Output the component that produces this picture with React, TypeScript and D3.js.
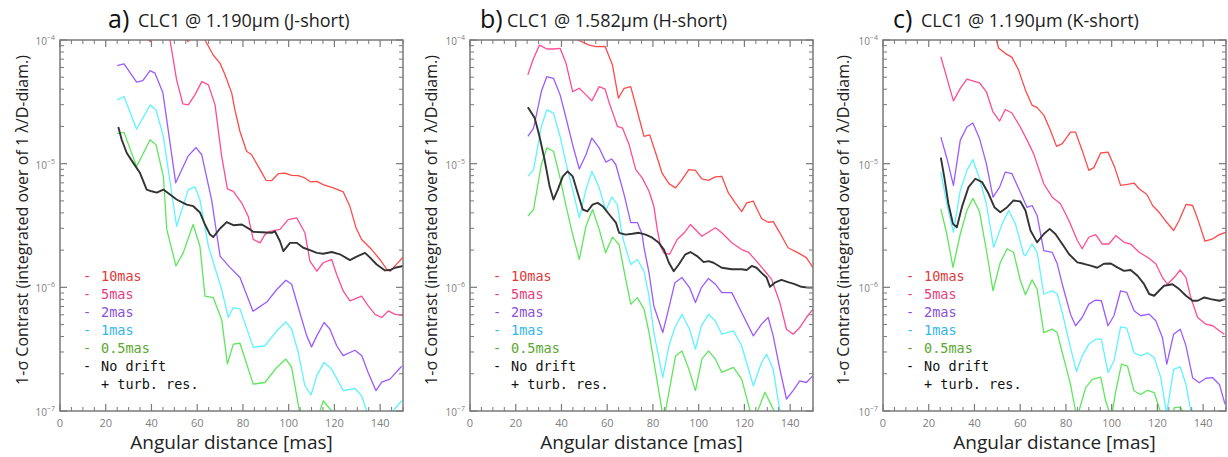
import React from "react";
import * as d3 from "d3";

type P = [number, number];

// ---------- labels ----------
const panelLetters = ["a)", "b)", "c)"];
const panelTitles = ["CLC1 @ 1.190µm (J-short)", "CLC1 @ 1.582µm (H-short)", "CLC1 @ 1.190µm (K-short)"];
const seriesNames = ["10mas", "5mas", "2mas", "1mas", "0.5mas", "No drift"];
const legendExtra = "+ turb. res.";
const xTicks = [0, 20, 40, 60, 80, 100, 120, 140];
const yDecades = [-4, -5, -6, -7];
const yLabel = "1-σ Contrast (integrated over of 1 λ/D-diam.)";
const xLabel = "Angular distance [mas]";

// ---------- panel a (J-short) ----------
const a10: P[] = [[25,1.6e-4],[33,1.3e-4],[39.4,0.97e-4],[45,1.3e-4],[50,1.4e-4],[56,0.97e-4],[60,1.2e-4],[63.4,1e-4],[67,7.56e-5],[70,6.48e-5],[72.2,5.22e-5],[75.1,3.72e-5],[76.5,2.72e-5],[78.7,1.82e-5],[81.6,1.26e-5],[83.8,1.18e-5],[87.5,8.95e-6],[90.1,7.34e-6],[92.6,7.3e-6],[95.5,8.3e-6],[98.4,8.4e-6],[101.3,8.05e-6],[104.2,8.0e-6],[107.1,7.67e-6],[109.6,7.12e-6],[112.3,7.2e-6],[115.1,6.77e-6],[119.5,6.37e-6],[123.9,5.91e-6],[126.8,4.5e-6],[129.4,3.05e-6],[131.9,2.44e-6],[136.3,2.02e-6],[139.9,1.68e-6],[142.9,1.4e-6],[144.3,1.35e-6],[146.5,1.49e-6],[150,1.75e-6]];
const a5: P[] = [[25,3e-4],[35,2.5e-4],[42,1.8e-4],[48.1,1e-4],[51,4.76e-5],[53.7,3.05e-5],[56.1,2.99e-5],[59,3.6e-5],[62,4.61e-5],[64.9,4.34e-5],[67.8,2.99e-5],[70.7,1.15e-5],[73.2,6.25e-6],[75.8,5.98e-6],[79.5,4.8e-6],[82.3,3.76e-6],[84.5,2.44e-6],[87.5,2.29e-6],[89.6,2.67e-6],[91.8,2.84e-6],[96.2,2.94e-6],[99.8,3.53e-6],[103.5,3.65e-6],[107.1,2.76e-6],[109.3,1.63e-6],[112.3,1.35e-6],[115.1,1.58e-6],[118.8,1.68e-6],[121,1.27e-6],[123.9,9.3e-7],[126.8,7.76e-7],[131.9,8.5e-7],[134.8,7.07e-7],[137.8,6.05e-7],[140.7,5.7e-7],[143.6,6.45e-7],[146.5,6.05e-7],[150,5.94e-7]];
const a2: P[] = [[25,6.2e-5],[28,6.4e-5],[33.5,4.56e-5],[36.2,4.7e-5],[39.4,5.65e-5],[41.5,5.4e-5],[45,3.74e-5],[50.6,7.0e-6],[56,1.15e-5],[59.5,1.35e-5],[62,1.18e-5],[66.3,5.1e-6],[70,1.79e-6],[74.3,1.45e-6],[78.7,1.2e-6],[84.4,6.4e-7],[90.4,7.6e-7],[94.8,9.6e-7],[98.8,1.14e-6],[101.3,1.06e-6],[104,7.1e-7],[107.9,4.05e-7],[110,3.3e-7],[112.3,4.05e-7],[115.5,5.2e-7],[118,4.6e-7],[121,3.37e-7],[123.8,2.8e-7],[129,3.1e-7],[132,2.8e-7],[134.7,2.06e-7],[138.2,1.46e-7],[140.7,1.71e-7],[144.3,1.81e-7],[149.4,2.3e-7]];
const a1: P[] = [[25,3.28e-5],[28,3.49e-5],[33.5,1.9e-5],[39.4,2.99e-5],[42,2.72e-5],[45.2,1.66e-5],[51,3.12e-6],[56.1,6.17e-6],[59,6.5e-6],[61.2,5.1e-6],[64.9,2.15e-6],[70.7,9.6e-7],[73.6,5.7e-7],[75.8,6.86e-7],[78.7,6.7e-7],[84.5,3.27e-7],[89.6,3.37e-7],[94.8,4.45e-7],[98.8,5.25e-7],[101.3,4.58e-7],[104.2,2.97e-7],[107.1,1.6e-7],[109.8,1.35e-7],[112.3,1.93e-7],[115.5,2.47e-7],[118.8,2.18e-7],[123.9,1.46e-7],[129,1.52e-7],[131.9,1.33e-7],[134.1,1.0e-7],[136,8e-8],[140,7e-8],[143,8e-8],[145.6,1e-7],[149.4,1.21e-7]];
const a05: P[] = [[25,1.75e-5],[28,1.79e-5],[33.5,9.5e-6],[39.4,1.56e-5],[42,1.42e-5],[45.2,7.9e-6],[46.7,2.94e-6],[50.7,1.49e-6],[53.9,1.9e-6],[58.2,3.22e-6],[61.2,2.15e-6],[63.4,8.5e-7],[67,8.26e-7],[70.7,5.5e-7],[73.2,2.4e-7],[75.8,3.47e-7],[78.7,3.53e-7],[84.5,1.65e-7],[89.6,1.7e-7],[94.8,2.25e-7],[98.8,2.63e-7],[101.3,2.25e-7],[104.7,1e-7],[108,6e-8],[112,8e-8],[115.1,1.21e-7],[118.8,1e-7],[122,6e-8],[130,5e-8],[140,5e-8],[150,5e-8]];
const a0: P[] = [[25.5,1.98e-5],[27,1.56e-5],[29.2,1.22e-5],[32.1,1.01e-5],[35,8.4e-6],[37.9,6.17e-6],[40.1,5.98e-6],[42.3,5.84e-6],[45.2,6.17e-6],[48.1,5.62e-6],[51,5.13e-6],[55.4,4.67e-6],[58.3,4.53e-6],[61.2,4.03e-6],[63.4,3.22e-6],[65.6,2.67e-6],[67,2.55e-6],[70,2.99e-6],[72.9,3.37e-6],[75.8,3.18e-6],[79.5,3.22e-6],[83.1,2.94e-6],[84.5,2.81e-6],[88.2,2.79e-6],[92.6,2.76e-6],[94,2.84e-6],[96.2,2.36e-6],[97.7,1.96e-6],[100.6,2.29e-6],[103.5,2.29e-6],[106.4,2.09e-6],[109.3,2.0e-6],[112.3,1.9e-6],[115.1,1.87e-6],[118.8,1.93e-6],[122.4,1.85e-6],[126.8,1.66e-6],[129.7,1.77e-6],[133.4,1.9e-6],[135.6,1.74e-6],[138.5,1.53e-6],[142.1,1.37e-6],[144.3,1.38e-6],[146.5,1.44e-6],[150,1.49e-6]];

// ---------- panel b (H-short) ----------
const b10: P[] = [[25,3e-4],[40,2e-4],[47.1,1e-4],[52.2,9.1e-5],[55.1,8.83e-5],[59.1,8.87e-5],[62.3,6.28e-5],[64.9,3.39e-5],[67.4,4.07e-5],[70.3,4.2e-5],[73.2,2.64e-5],[76.1,1.66e-5],[78.6,1.71e-5],[81.2,1.22e-5],[84,8.4e-6],[87,6.9e-6],[89.9,6.37e-6],[92.7,7.43e-6],[95.7,8.95e-6],[98.6,8.83e-6],[101.4,7.53e-6],[104.3,7.33e-6],[107.3,7.81e-6],[110.1,7.9e-6],[113,5.8e-6],[116,4.82e-6],[118.8,4.1e-6],[121,4.82e-6],[123.9,4.97e-6],[127.5,3.6e-6],[130.4,3.36e-6],[132.6,3.4e-6],[135.5,2.76e-6],[139.1,2.09e-6],[143.5,1.9e-6],[147.1,1.74e-6],[150,1.44e-6]];
const b5: P[] = [[25.3,5.22e-5],[27.5,6.9e-5],[30.4,9.1e-5],[33.6,8.46e-5],[36.5,8.46e-5],[39.4,8.57e-5],[42,6.48e-5],[44.9,3.83e-5],[47.8,4.07e-5],[50.7,3.6e-5],[53.3,3.23e-5],[56.5,4.2e-5],[59.1,4.0e-5],[60.9,3.09e-5],[63,2.4e-5],[64.5,2.0e-5],[66.7,1.94e-5],[69.6,1.42e-5],[72.5,8.95e-6],[75.3,7.67e-6],[78.3,5.98e-6],[80.4,4.53e-6],[81.9,2.94e-6],[83.3,2.15e-6],[84.8,1.9e-6],[87.3,1.85e-6],[90.6,2.44e-6],[93.9,2.79e-6],[96.4,3.22e-6],[101.4,2.59e-6],[107.3,3.03e-6],[110.1,2.76e-6],[114.5,2.29e-6],[118.8,2.02e-6],[121.7,1.93e-6],[125.3,1.63e-6],[129,1.35e-6],[131.9,1.16e-6],[135.5,7.53e-7],[138.4,4.58e-7],[141.3,4.18e-7],[144.2,4.73e-7],[147.1,5.7e-7],[150,6.65e-7]];
const b2: P[] = [[25.3,1.66e-5],[27.8,1.94e-5],[31.2,3.83e-5],[33.6,5.06e-5],[36.5,4.9e-5],[39.4,3.6e-5],[42,2.34e-5],[44.9,1.42e-5],[47.8,9.06e-6],[50.7,1.18e-5],[53.3,1.61e-5],[56.5,1.34e-5],[59.4,1.03e-5],[62,1.09e-5],[63.8,9.8e-6],[67.4,5.62e-6],[70.3,3.34e-6],[73.2,3.34e-6],[75.3,2.67e-6],[76.1,2.09e-6],[78.3,1.31e-6],[80.4,7.07e-7],[84.3,4.31e-7],[87,6.86e-7],[89.6,1.09e-6],[92.7,1.2e-6],[96,9.95e-7],[98.6,7.53e-7],[101.2,9.95e-7],[104.3,1.18e-6],[107.3,1.06e-6],[110.1,9.06e-7],[114.5,9.06e-7],[118.8,6.25e-7],[123.9,4.05e-7],[127.5,5.04e-7],[130.4,5.7e-7],[132.6,4.05e-7],[135.5,2.18e-7],[138.4,1.25e-7],[141.3,1.46e-7],[144.2,1.75e-7],[147.1,1.7e-7],[150,1.93e-7]];
const b1: P[] = [[25.3,7.9e-6],[27.8,8.95e-6],[31.2,2.0e-5],[33.6,2.72e-5],[36.5,2.56e-5],[39.4,1.66e-5],[42,1.01e-5],[44.9,6.17e-6],[47.8,3.65e-6],[50.7,6.17e-6],[53.3,8.67e-6],[56.5,6.4e-6],[59.4,4.18e-6],[62,5.37e-6],[64.5,4.67e-6],[66.1,2.94e-6],[67.4,2.29e-6],[70.3,1.53e-6],[73.2,1.68e-6],[76.1,1.35e-6],[78.3,8.5e-7],[80.4,4.31e-7],[84.3,1.87e-7],[87,3.37e-7],[89.6,4.73e-7],[92.7,6.05e-7],[96,4.58e-7],[98.6,3.16e-7],[101.2,4.88e-7],[104.3,6.05e-7],[107.3,5.35e-7],[110.1,4.18e-7],[115.2,4.45e-7],[118.8,3.37e-7],[123.9,1.6e-7],[127.5,2.47e-7],[129.7,2.88e-7],[132.6,2.18e-7],[135.5,1e-7],[138,6e-8],[145,5e-8],[150,5e-8]];
const b05: P[] = [[25.3,3.76e-6],[27.8,4.26e-6],[31.2,9.8e-6],[33.6,1.34e-5],[36.5,1.26e-5],[39.4,7.67e-6],[42,4.53e-6],[44.9,2.67e-6],[47.8,1.68e-6],[50.7,3.12e-6],[53.6,4.26e-6],[56.5,2.94e-6],[59.3,1.9e-6],[62.3,2.55e-6],[65.2,2.22e-6],[67.4,1.35e-6],[70.3,7.3e-7],[73.2,8.26e-7],[76.1,6.65e-7],[78.3,4.31e-7],[81.2,2.05e-7],[84,1e-7],[84.8,8e-8],[85.5,1e-7],[89.9,2.79e-7],[92.7,3.06e-7],[95.7,2.18e-7],[98.6,1.46e-7],[101.4,2.63e-7],[104.3,3.06e-7],[107.3,2.63e-7],[110.1,2.05e-7],[115.2,2.25e-7],[118.8,1.81e-7],[122.5,1e-7],[124,7e-8],[125.8,1e-7],[129,1.42e-7],[131.9,1.1e-7],[133,1e-7],[136,5e-8],[150,4e-8]];
const b0: P[] = [[25.3,2.86e-5],[28.3,2.34e-5],[30.4,1.66e-5],[32.6,1.08e-5],[34.8,6.56e-6],[36.5,5.13e-6],[38.4,6.17e-6],[40.6,7.9e-6],[42.7,8.67e-6],[44.9,7.9e-6],[47.1,5.8e-6],[49.3,4.26e-6],[51.4,4.12e-6],[53.6,4.67e-6],[55.8,4.82e-6],[58,4.53e-6],[60.9,3.88e-6],[63.8,3.34e-6],[65.2,2.76e-6],[68.1,2.67e-6],[71,2.71e-6],[73.9,2.76e-6],[76.8,2.67e-6],[79.7,2.52e-6],[82.6,2.29e-6],[84.8,2.02e-6],[87,1.58e-6],[89.1,1.35e-6],[91.3,1.53e-6],[94.2,1.85e-6],[96.4,1.93e-6],[99.3,1.79e-6],[102.2,1.6e-6],[104.3,1.63e-6],[106.5,1.58e-6],[110.1,1.44e-6],[114.5,1.4e-6],[118.8,1.4e-6],[121,1.38e-6],[123.2,1.49e-6],[125.3,1.44e-6],[127.5,1.31e-6],[129.7,1.2e-6],[131.2,1.01e-6],[133.3,1.09e-6],[136.2,1.15e-6],[139.1,1.1e-6],[142,1.06e-6],[144.9,1.01e-6],[147.8,9.95e-7],[150,9.95e-7]];

// ---------- panel c (K-short) ----------
const c10: P[] = [[25,3e-4],[40,1.6e-4],[49.6,1e-4],[50.6,8.57e-5],[53.5,7.8e-5],[56.4,7.24e-5],[59.3,5.71e-5],[62.3,3.93e-5],[65.2,2.97e-5],[67.4,2.84e-5],[70.3,2.47e-5],[73.2,1.86e-5],[75.9,1.38e-5],[78.4,1.45e-5],[82,1.8e-5],[84.2,1.8e-5],[87.1,1.28e-5],[90,8.83e-6],[92.2,9.29e-6],[95.2,1.22e-5],[98.4,1.24e-5],[101.3,9.38e-6],[103.9,6.67e-6],[106.9,6.79e-6],[109.8,6.97e-6],[112,6.27e-6],[115.4,5.64e-6],[117.9,4.59e-6],[120.7,4.05e-6],[123.7,3.42e-6],[127.1,2.88e-6],[129.5,3.47e-6],[132.5,4.68e-6],[135.4,4.59e-6],[137.6,3.58e-6],[140.8,2.36e-6],[144.2,2.47e-6],[147.1,2.67e-6],[150,2.79e-6]];
const c5: P[] = [[25.3,7.32e-5],[28.2,4.74e-5],[30.8,3.22e-5],[33.8,4.06e-5],[36.7,4.83e-5],[39.3,4.68e-5],[42.2,4.51e-5],[45.2,3.81e-5],[48.1,2.62e-5],[51,2.21e-5],[53.5,2.74e-5],[56.4,2.57e-5],[60.1,1.97e-5],[63,1.55e-5],[65.9,1.2e-5],[70.3,6.88e-6],[74,5.36e-6],[77.6,4.74e-6],[81.3,3.47e-6],[85,2.39e-6],[87.1,2.05e-6],[90,2.54e-6],[93,2.67e-6],[95.9,2.24e-6],[98.8,2.24e-6],[101.8,2.62e-6],[105.4,2.31e-6],[108.3,2.24e-6],[112,1.92e-6],[115.7,1.75e-6],[119.3,1.55e-6],[122.2,1.2e-6],[124.4,1.06e-6],[127.3,1.2e-6],[130,1.38e-6],[132.5,1.2e-6],[134.6,8.28e-7],[137.6,5.7e-7],[141.2,5.04e-7],[144.2,4.89e-7],[147.1,4.45e-7],[149.3,4.18e-7]];
const c2: P[] = [[25.3,1.64e-5],[28.2,1.06e-5],[30.8,6.67e-6],[33.8,1.55e-5],[36.7,1.98e-5],[39.3,2.13e-5],[42.2,1.6e-5],[45.2,1.0e-5],[48.1,5.36e-6],[51,6.46e-6],[53.5,8.55e-6],[56.4,8.3e-6],[60.1,5.85e-6],[63,4.43e-6],[65.2,4.59e-6],[67.4,3.81e-6],[70.3,1.98e-6],[74,1.92e-6],[76.2,1.55e-6],[78.4,1.06e-6],[82,6.07e-7],[84.2,4.89e-7],[87.1,5.7e-7],[90,7.32e-7],[93,7.89e-7],[95.5,7.79e-7],[98.4,4.89e-7],[101,5.89e-7],[103.9,9.38e-7],[106.6,9.1e-7],[109.8,6.46e-7],[112.7,5.89e-7],[116.4,6.07e-7],[119.3,5.36e-7],[122.2,3.93e-7],[124.1,2.39e-7],[127.1,4.18e-7],[130,4.59e-7],[132.5,3.36e-7],[135.4,1.86e-7],[138.3,1.69e-7],[141.2,1.84e-7],[144.2,1.86e-7],[147.1,1.64e-7],[149.6,1.13e-7]];
const c1: P[] = [[25.3,8.55e-6],[28.2,4.45e-6],[30.8,2.79e-6],[33.8,6.07e-6],[36.7,8.83e-6],[39.3,1.08e-5],[42.2,7.55e-6],[45.2,4.74e-6],[48.4,2.11e-6],[52.1,3.26e-6],[55,4.18e-6],[57.9,3.26e-6],[61.5,1.86e-6],[62.3,1.8e-6],[65.2,2.24e-6],[67.4,1.92e-6],[70.3,8.83e-7],[74,9.38e-7],[76.2,8.83e-7],[78.4,6.25e-7],[82,3.26e-7],[84.6,2.08e-7],[87.1,2.79e-7],[90,3.47e-7],[93,3.81e-7],[95.5,3.81e-7],[98.4,2.04e-7],[101,2.54e-7],[103.9,4.79e-7],[106.6,4.68e-7],[109.8,2.96e-7],[112.7,2.79e-7],[115.7,2.96e-7],[118.6,2.7e-7],[121.5,1.86e-7],[124,9.5e-8],[127.1,2.17e-7],[130,2.27e-7],[132.5,1.64e-7],[134.6,1e-7],[137,6e-8],[150,4e-8]];
const c05: P[] = [[25.3,4.31e-6],[27.9,2.7e-6],[30.6,1.45e-6],[33.8,2.7e-6],[36.7,4.18e-6],[39.3,5.24e-6],[42.2,4.1e-6],[45.5,1.86e-6],[48.1,9.38e-7],[51.3,1.59e-6],[54.3,2.05e-6],[57.1,1.92e-6],[60.1,1.13e-6],[62.3,8.71e-7],[65.2,1.15e-6],[67.4,9.68e-7],[70.3,4.31e-7],[74,4.59e-7],[76.2,4.31e-7],[78.4,2.96e-7],[82,1.64e-7],[84.2,1e-7],[85,8e-8],[85.7,1e-7],[88.6,1.54e-7],[91.5,1.8e-7],[95.2,1.88e-7],[97.4,1.2e-7],[98.8,1e-7],[99.5,8e-8],[101.8,1.45e-7],[104.3,2.39e-7],[106.9,2.31e-7],[109.8,1.45e-7],[112.7,1.36e-7],[115.7,1.47e-7],[118.6,1.41e-7],[121.2,1e-7],[123,6e-8],[126,7e-8],[127.3,1.06e-7],[130,1.08e-7],[131,1e-7],[134,5e-8],[150,4e-8]];
const c0: P[] = [[25.3,1.12e-5],[26.8,7.79e-6],[28.6,4.74e-6],[30.6,3.26e-6],[32.3,3.06e-6],[34.5,4.45e-6],[37.4,6.46e-6],[40.4,7.55e-6],[43.3,7.1e-6],[46.2,5.71e-6],[48.7,4.45e-6],[51.3,4.05e-6],[54.3,4.45e-6],[57.1,5.04e-6],[60.1,4.94e-6],[62.3,4.18e-6],[64.5,2.88e-6],[67.4,2.31e-6],[70.3,2.7e-6],[72.9,2.97e-6],[75.4,2.7e-6],[78.4,2.24e-6],[81.3,1.86e-6],[85,1.59e-6],[87.8,1.55e-6],[90.8,1.5e-6],[93.7,1.44e-6],[96.6,1.55e-6],[99.6,1.56e-6],[102.5,1.45e-6],[105.4,1.36e-6],[108.3,1.38e-6],[111.3,1.24e-6],[114.2,1.06e-6],[116.4,8.83e-7],[118.6,8.55e-7],[120.7,9.38e-7],[122.9,1.03e-6],[126.6,1.06e-6],[129.5,9.68e-7],[132.5,8.55e-7],[135.4,7.79e-7],[137.6,7.79e-7],[140.5,8.28e-7],[143.4,8.03e-7],[147.1,7.79e-7],[149.6,8.03e-7]];

const panelSeries: P[][][] = [
  [a10, a5, a2, a1, a05, a0],
  [b10, b5, b2, b1, b05, b0],
  [c10, c5, c2, c1, c05, c0],
];

// ---------- styling ----------
const lineColors = ["#ff4a4a", "#ff4c94", "#9a5cff", "#5ef4ff", "#5ee65e", "#333333"];
const legendColors = ["#e03a3a", "#e8407e", "#8852d8", "#34b6ee", "#5aa832", "#111111"];
const lineWidths = [1.3, 1.3, 1.3, 1.3, 1.3, 1.9];

const W = 1228;
const H = 457;
const panelLeft = [60, 470, 883];
const plotW = 343;
const plotTop = 40;
const plotBottom = 411;
const letterX = [108, 480, 893];
const titleX = [138, 507, 921];
const yLabelX = [22, 431, 843];
const axisColor = "#7a7a7a";
const tickTextColor = "#808080";
const fontSans = "'Open Sans', 'Noto Sans', sans-serif";
const fontMono = "'DejaVu Sans Mono', 'Liberation Mono', monospace";

function Panel({ idx }: { idx: number }) {
  const left = panelLeft[idx];
  const right = left + plotW;
  const x = d3.scaleLinear().domain([0, 150]).range([left, right]);
  const y = d3.scaleLog().domain([1e-7, 1e-4]).range([plotBottom, plotTop]);
  const line = d3
    .line<P>()
    .x((d) => x(d[0]))
    .y((d) => y(d[1]));
  const clipId = `clip${idx}`;

  const minorX = d3.range(0, 151, 5).filter((v) => v % 20 !== 0);
  const majorX = xTicks;
  const minorY: number[] = [];
  for (let e = -7; e < -4; e++) {
    for (let m = 2; m <= 9; m++) minorY.push(m * Math.pow(10, e));
  }
  const majorLen = 7;
  const minorLen = 4;

  return (
    <g>
      <defs>
        <clipPath id={clipId}>
          <rect x={left} y={plotTop} width={plotW} height={plotBottom - plotTop} />
        </clipPath>
      </defs>
      {/* title */}
      <text x={letterX[idx]} y={28} fontFamily={fontSans} fontSize={25} fill="#111">
        {panelLetters[idx]}
      </text>
      <text x={titleX[idx]} y={27} fontFamily={fontSans} fontSize={18} fill="#222">
        {panelTitles[idx]}
      </text>

      {/* series */}
      <g clipPath={`url(#${clipId})`}>
        {panelSeries[idx].map((s, i) => (
          <path
            key={i}
            d={line(s) || ""}
            fill="none"
            stroke={lineColors[i]}
            strokeWidth={lineWidths[i]}
            strokeLinejoin="round"
          />
        ))}
      </g>

      {/* frame */}
      <rect
        x={left}
        y={plotTop}
        width={plotW}
        height={plotBottom - plotTop}
        fill="none"
        stroke={axisColor}
        strokeWidth={1.5}
      />

      {/* x ticks */}
      {majorX.map((v) => (
        <g key={"mx" + v}>
          <line x1={x(v)} x2={x(v)} y1={plotBottom} y2={plotBottom - majorLen} stroke={axisColor} strokeWidth={1.2} />
          <line x1={x(v)} x2={x(v)} y1={plotTop} y2={plotTop + majorLen} stroke={axisColor} strokeWidth={1.2} />
          <text
            x={x(v)}
            y={plotBottom + 16}
            textAnchor="middle"
            fontFamily={fontSans}
            fontSize={11}
            fill={tickTextColor}
          >
            {v}
          </text>
        </g>
      ))}
      {minorX.map((v) => (
        <g key={"nx" + v}>
          <line x1={x(v)} x2={x(v)} y1={plotBottom} y2={plotBottom - minorLen} stroke={axisColor} strokeWidth={1} />
          <line x1={x(v)} x2={x(v)} y1={plotTop} y2={plotTop + minorLen} stroke={axisColor} strokeWidth={1} />
        </g>
      ))}

      {/* y ticks */}
      {yDecades.map((e) => {
        const yy = y(Math.pow(10, e));
        return (
          <g key={"my" + e}>
            <line x1={left} x2={left + majorLen} y1={yy} y2={yy} stroke={axisColor} strokeWidth={1.2} />
            <line x1={right} x2={right - majorLen} y1={yy} y2={yy} stroke={axisColor} strokeWidth={1.2} />
            <text x={left - 5} y={yy + 5} textAnchor="end" fontFamily={fontSans} fontSize={10} fill={tickTextColor}>
              10
              <tspan dy={-5} fontSize={7}>
                {"−" + Math.abs(e)}
              </tspan>
            </text>
          </g>
        );
      })}
      {minorY.map((v, i) => {
        const yy = y(v);
        return (
          <g key={"ny" + i}>
            <line x1={left} x2={left + minorLen} y1={yy} y2={yy} stroke={axisColor} strokeWidth={1} />
            <line x1={right} x2={right - minorLen} y1={yy} y2={yy} stroke={axisColor} strokeWidth={1} />
          </g>
        );
      })}

      {/* axis labels */}
      <text
        x={(left + right) / 2}
        y={449}
        textAnchor="middle"
        fontFamily={fontSans}
        fontSize={19}
        fill="#222"
      >
        {xLabel}
      </text>
      <text
        transform={`translate(${yLabelX[idx]},220) rotate(-90)`}
        textAnchor="middle"
        dominantBaseline="central"
        fontFamily={fontSans}
        fontSize={16}
        fill="#222"
      >
        {yLabel}
      </text>

      {/* legend */}
      {seriesNames.map((name, i) => {
        const yy = 276 + i * 18;
        return (
          <g key={"lg" + i}>
            <text x={left + 23} y={yy} dominantBaseline="central" fontFamily={fontMono} fontSize={13.5} fill={legendColors[i]}>
              {"-"}
            </text>
            <text x={left + 41} y={yy} dominantBaseline="central" fontFamily={fontMono} fontSize={13.5} fill={legendColors[i]}>
              {name}
            </text>
          </g>
        );
      })}
      <text
        x={left + 41}
        y={276 + 6 * 18}
        dominantBaseline="central"
        fontFamily={fontMono}
        fontSize={13.5}
        fill="#111"
      >
        {legendExtra}
      </text>
    </g>
  );
}

export default function App() {
  return (
    <svg
      width={W}
      height={H}
      viewBox={`0 0 ${W} ${H}`}
      style={{ position: "absolute", left: 0, top: 0, background: "#fff" }}
    >
      <rect x={0} y={0} width={W} height={H} fill="#fff" />
      {[0, 1, 2].map((i) => (
        <Panel key={i} idx={i} />
      ))}
    </svg>
  );
}
